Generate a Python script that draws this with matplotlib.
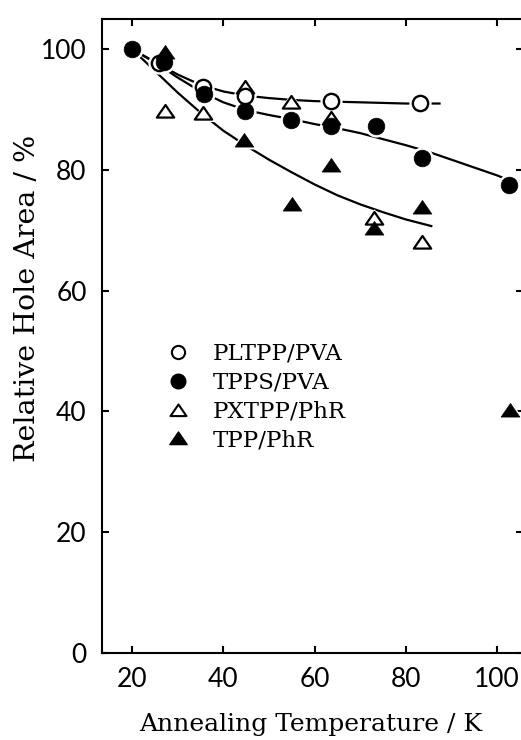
import numpy as np
import matplotlib.pyplot as plt
from matplotlib.lines import Line2D
from matplotlib.path import Path

# Dane
T_pltpp = [26.0, 35.5, 44.7, 63.7, 83.2]
A_pltpp = [97.7, 93.8, 92.3, 91.4, 91.1]

T_tpps = [20.0, 27.0, 35.8, 44.7, 54.8, 63.7, 73.5, 83.5, 102.6]
A_tpps = [100.0, 97.8, 92.6, 89.7, 88.3, 87.2, 87.3, 82.0, 77.5]

T_pxtpp = [27.3, 35.6, 44.7, 54.8, 63.7, 73.0, 83.5]
A_pxtpp = [89.8, 89.4, 93.8, 91.2, 88.6, 72.0, 68.0]

T_tpp = [27.2, 44.5, 55.0, 63.7, 73.1, 83.5, 102.8]
A_tpp = [99.6, 84.9, 74.4, 80.8, 70.3, 73.8, 40.2]

# Krzywe dopasowania
fit_pltpp_T = [20, 25, 30, 35, 40, 45, 50, 55, 60, 65, 70, 75, 80, 87.4]
fit_pltpp_A = [100, 97.9, 95.8, 94.1, 93.0, 92.3, 91.9, 91.6, 91.4, 91.3, 91.2, 91.1, 91.0, 91.0]

fit_tpps_T = [20, 25, 30, 35, 40, 45, 50, 55, 60, 65, 70, 75, 80, 85, 90, 95, 100, 102.6]
fit_tpps_A = [100, 97.8, 95.3, 93.0, 91.2, 89.9, 89.1, 88.4, 87.6, 86.9, 86.1, 85.1, 84.1,
              83.0, 81.7, 80.4, 79.1, 78.3]

fit_tpp_T = [20, 25, 30, 35, 40, 45, 50, 55, 60, 65, 70, 75, 80, 85.6]
fit_tpp_A = [100, 96.4, 92.8, 89.5, 86.5, 84.0, 81.7, 79.6, 77.6, 75.8, 74.3, 73.0, 71.8, 70.7]

labels = ['PLTPP/PVA', 'TPPS/PVA', 'PXTPP/PhR', 'TPP/PhR']
x_ticks = [20, 40, 60, 80, 100]
y_ticks = [0, 20, 40, 60, 80, 100]

# spłaszczony, zamknięty trójkąt jak w oryginale
tri = Path([(-1, -0.7), (1, -0.7), (0, 0.75), (-1, -0.7)],
           [Path.MOVETO, Path.LINETO, Path.LINETO, Path.CLOSEPOLY])

fig = plt.figure(figsize=(5.21, 7.40), dpi=100)
ax = fig.add_axes([0.1958, 0.1178, 0.808, 0.8565])

lw = 1.6
ax.plot(fit_pltpp_T, fit_pltpp_A, color='black', lw=lw, zorder=1)
ax.plot(fit_tpps_T, fit_tpps_A, color='black', lw=lw, zorder=1)
ax.plot(fit_tpp_T, fit_tpp_A, color='black', lw=lw, zorder=1)

# białe obwódki pod markerami (przerwy w liniach)
halo = dict(ls='none', color='white', mec='white', zorder=2)
ax.plot(T_pxtpp, A_pxtpp, marker=tri, ms=16, **halo)
ax.plot(T_pltpp, A_pltpp, marker='o', ms=15, **halo)
ax.plot(T_tpps, A_tpps, marker='o', ms=15, **halo)
ax.plot(T_tpp, A_tpp, marker=tri, ms=17, **halo)

ax.plot(T_pxtpp, A_pxtpp, ls='none', marker=tri, ms=12.5, mfc='white', mec='black', mew=1.6, zorder=3)
ax.plot(T_pltpp, A_pltpp, ls='none', marker='o', ms=11, mfc='white', mec='black', mew=1.7, zorder=4)
ax.plot(T_tpps, A_tpps, ls='none', marker='o', ms=12, mfc='black', mec='black', mew=0.5, zorder=5)
ax.plot(T_tpp, A_tpp, ls='none', marker=tri, ms=13.5, mfc='black', mec='black', mew=0.5, zorder=6)

ax.set_xlim(13.4, 105.7)
ax.set_ylim(0, 105)
ax.set_xticks(x_ticks)
ax.set_yticks(y_ticks)
ax.tick_params(direction='in', length=5, width=1.5, top=True, right=True,
               labelsize=19, colors='black')
ax.tick_params(axis='x', pad=10)
ax.tick_params(axis='y', pad=11)
for lab in ax.get_xticklabels() + ax.get_yticklabels():
    lab.set_family('Lato')
for sp in ax.spines.values():
    sp.set_linewidth(1.5)

ax.set_xlabel('Annealing Temperature / K', family='DejaVu Serif', fontsize=18)
ax.set_ylabel('Relative Hole Area / %', family='DejaVu Serif', fontsize=20.5)
ax.xaxis.set_label_coords(0.495, -0.095)
ax.yaxis.set_label_coords(-0.145, 0.56)

handles = [
    Line2D([], [], ls='none', marker='o', ms=9.5, mfc='white', mec='black', mew=1.5),
    Line2D([], [], ls='none', marker='o', ms=10.5, mfc='black', mec='black'),
    Line2D([], [], ls='none', marker=tri, ms=11.5, mfc='white', mec='black', mew=1.5),
    Line2D([], [], ls='none', marker=tri, ms=12.5, mfc='black', mec='black'),
]
ax.legend(handles, labels, loc='upper left', bbox_to_anchor=(0.155, 0.489),
          frameon=False, borderpad=0, borderaxespad=0, handlelength=0.9,
          handletextpad=1.1, labelspacing=0.3,
          prop={'family': 'DejaVu Serif', 'size': 16.5})

fig.savefig('out.png', dpi=100)
